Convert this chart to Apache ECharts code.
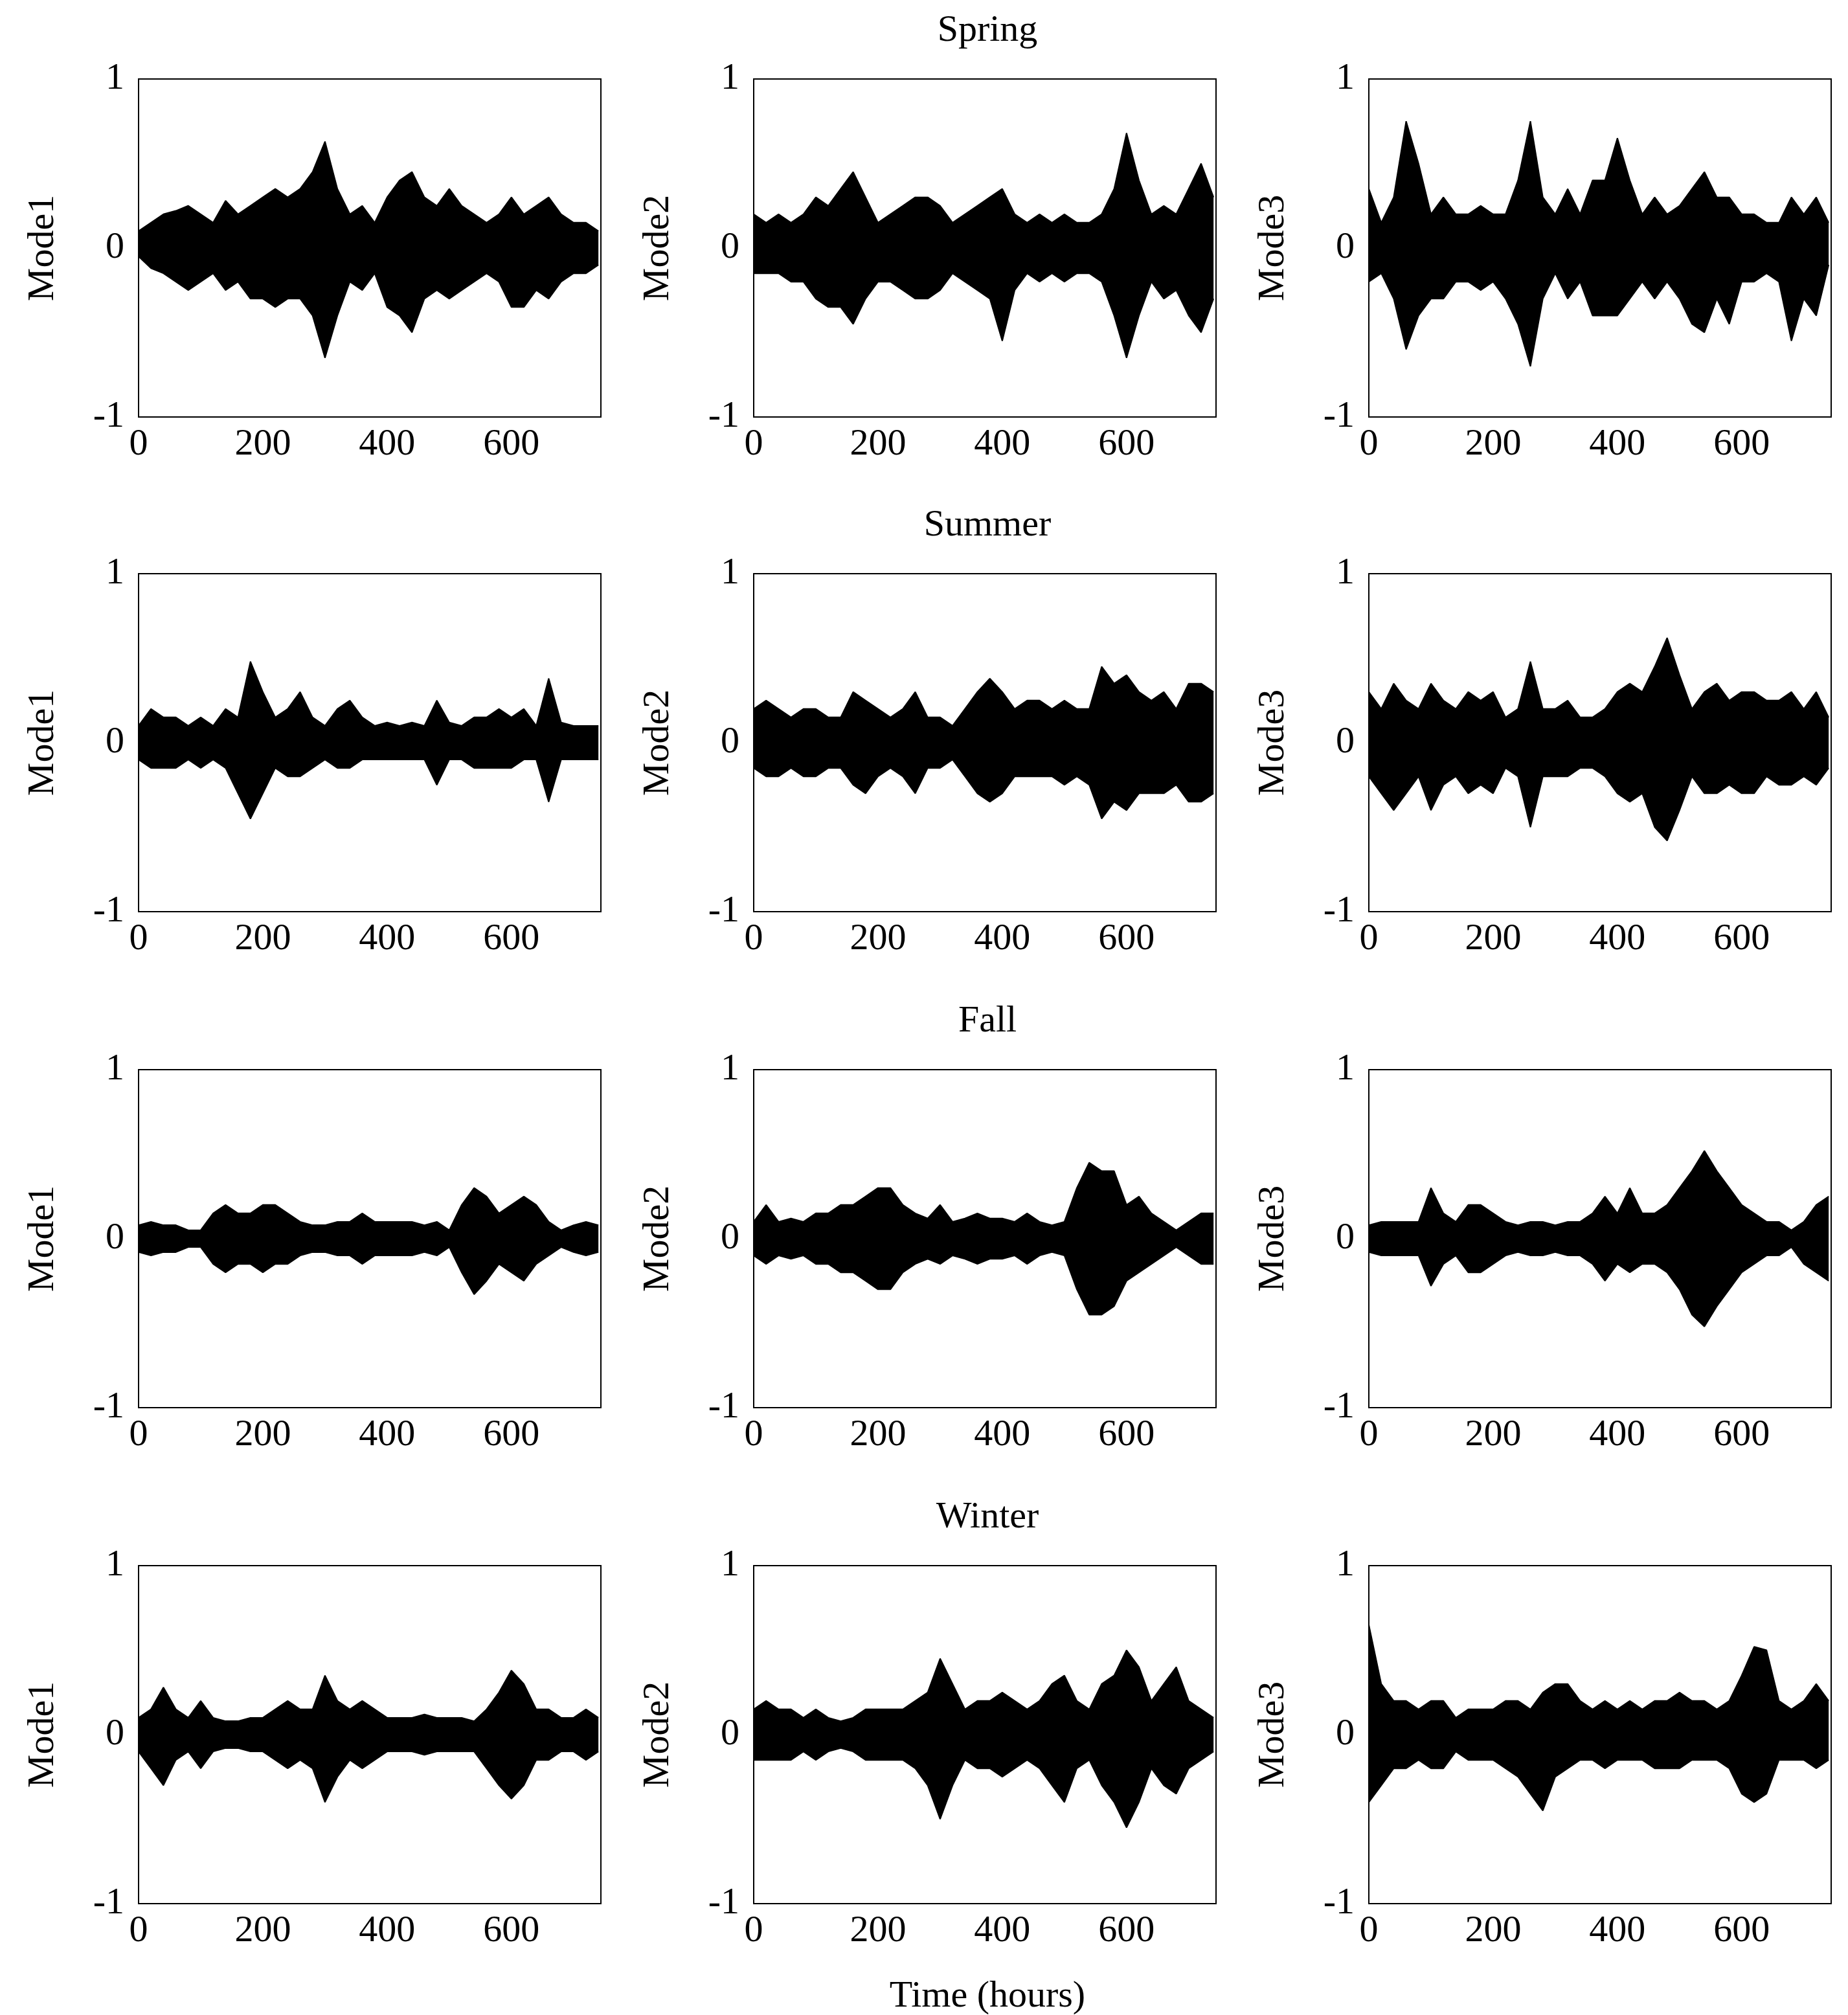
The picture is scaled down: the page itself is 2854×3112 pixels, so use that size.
<!DOCTYPE html>
<html><head><meta charset="utf-8">
<script src="https://cdn.jsdelivr.net/npm/echarts@6/dist/echarts.min.js"></script>
<style>html,body{margin:0;padding:0;background:#fff}#c{width:2854px;height:3112px}</style>
</head><body><div id="c"></div>
<script>
const hours = Array.from({length:38},(_,i)=>i*20);
const seasons = ["Spring","Summer","Fall","Winter"];
const modeNames = ["Mode1","Mode2","Mode3"];
const xTicks = [0,200,400,600];
const yTicks = [-1,0,1];
// envelope (upper / lower) of each mode, read every 20 hours
const S1hi=[0.1,0.15,0.2,0.22,0.25,0.2,0.15,0.28,0.2,0.25,0.3,0.35,0.3,0.35,0.45,0.63,0.35,0.2,0.25,0.15,0.3,0.4,0.45,0.3,0.25,0.35,0.25,0.2,0.15,0.2,0.3,0.2,0.25,0.3,0.2,0.15,0.15,0.1];
const S1lo=[-0.05,-0.12,-0.15,-0.2,-0.25,-0.2,-0.15,-0.25,-0.2,-0.3,-0.3,-0.35,-0.3,-0.3,-0.4,-0.65,-0.4,-0.2,-0.25,-0.15,-0.35,-0.4,-0.5,-0.3,-0.25,-0.3,-0.25,-0.2,-0.15,-0.2,-0.35,-0.35,-0.25,-0.3,-0.2,-0.15,-0.15,-0.1];
const S2hi=[0.2,0.15,0.2,0.15,0.2,0.3,0.25,0.35,0.45,0.3,0.15,0.2,0.25,0.3,0.3,0.25,0.15,0.2,0.25,0.3,0.35,0.2,0.15,0.2,0.15,0.2,0.15,0.15,0.2,0.35,0.68,0.4,0.2,0.25,0.2,0.35,0.5,0.3];
const S2lo=[-0.15,-0.15,-0.15,-0.2,-0.2,-0.3,-0.35,-0.35,-0.45,-0.3,-0.2,-0.2,-0.25,-0.3,-0.3,-0.25,-0.15,-0.2,-0.25,-0.3,-0.55,-0.25,-0.15,-0.2,-0.15,-0.2,-0.15,-0.15,-0.2,-0.4,-0.65,-0.4,-0.2,-0.3,-0.25,-0.4,-0.5,-0.3];
const S3hi=[0.35,0.15,0.3,0.75,0.5,0.2,0.3,0.2,0.2,0.25,0.2,0.2,0.4,0.75,0.3,0.2,0.35,0.2,0.4,0.4,0.65,0.4,0.2,0.3,0.2,0.25,0.35,0.45,0.3,0.3,0.2,0.2,0.15,0.15,0.3,0.2,0.3,0.15];
const S3lo=[-0.2,-0.15,-0.3,-0.6,-0.4,-0.3,-0.3,-0.2,-0.2,-0.25,-0.2,-0.3,-0.45,-0.7,-0.3,-0.15,-0.3,-0.2,-0.4,-0.4,-0.4,-0.3,-0.2,-0.3,-0.2,-0.3,-0.45,-0.5,-0.3,-0.45,-0.2,-0.2,-0.15,-0.2,-0.55,-0.3,-0.4,-0.1];
const U1hi=[0.1,0.2,0.15,0.15,0.1,0.15,0.1,0.2,0.15,0.48,0.3,0.15,0.2,0.3,0.15,0.1,0.2,0.25,0.15,0.1,0.12,0.1,0.12,0.1,0.25,0.12,0.1,0.15,0.15,0.2,0.15,0.2,0.1,0.38,0.12,0.1,0.1,0.1];
const U1lo=[-0.1,-0.15,-0.15,-0.15,-0.1,-0.15,-0.1,-0.15,-0.3,-0.45,-0.3,-0.15,-0.2,-0.2,-0.15,-0.1,-0.15,-0.15,-0.1,-0.1,-0.1,-0.1,-0.1,-0.1,-0.25,-0.1,-0.1,-0.15,-0.15,-0.15,-0.15,-0.1,-0.1,-0.35,-0.1,-0.1,-0.1,-0.1];
const U2hi=[0.2,0.25,0.2,0.15,0.2,0.2,0.15,0.15,0.3,0.25,0.2,0.15,0.2,0.3,0.15,0.15,0.1,0.2,0.3,0.38,0.3,0.2,0.25,0.25,0.2,0.25,0.2,0.2,0.45,0.35,0.4,0.3,0.25,0.3,0.2,0.35,0.35,0.3];
const U2lo=[-0.15,-0.2,-0.2,-0.15,-0.2,-0.2,-0.15,-0.15,-0.25,-0.3,-0.2,-0.15,-0.2,-0.3,-0.15,-0.15,-0.1,-0.2,-0.3,-0.35,-0.3,-0.2,-0.2,-0.2,-0.2,-0.25,-0.2,-0.25,-0.45,-0.35,-0.4,-0.3,-0.3,-0.3,-0.25,-0.35,-0.35,-0.3];
const U3hi=[0.3,0.2,0.35,0.25,0.2,0.35,0.25,0.2,0.3,0.25,0.3,0.15,0.2,0.48,0.2,0.2,0.25,0.15,0.15,0.2,0.3,0.35,0.3,0.45,0.62,0.4,0.2,0.3,0.35,0.25,0.3,0.3,0.25,0.25,0.3,0.2,0.3,0.15];
const U3lo=[-0.2,-0.3,-0.4,-0.3,-0.2,-0.4,-0.25,-0.2,-0.3,-0.25,-0.3,-0.15,-0.2,-0.5,-0.2,-0.2,-0.2,-0.15,-0.15,-0.2,-0.3,-0.35,-0.3,-0.5,-0.58,-0.4,-0.2,-0.3,-0.3,-0.25,-0.3,-0.3,-0.2,-0.25,-0.25,-0.2,-0.25,-0.15];
const F1hi=[0.08,0.1,0.08,0.08,0.05,0.05,0.15,0.2,0.15,0.15,0.2,0.2,0.15,0.1,0.08,0.08,0.1,0.1,0.15,0.1,0.1,0.1,0.1,0.08,0.1,0.05,0.2,0.3,0.25,0.15,0.2,0.25,0.2,0.1,0.05,0.08,0.1,0.08];
const F1lo=[-0.08,-0.1,-0.08,-0.08,-0.05,-0.05,-0.15,-0.2,-0.15,-0.15,-0.2,-0.15,-0.15,-0.1,-0.08,-0.08,-0.1,-0.1,-0.15,-0.1,-0.1,-0.1,-0.1,-0.08,-0.1,-0.05,-0.2,-0.33,-0.25,-0.15,-0.2,-0.25,-0.15,-0.1,-0.05,-0.08,-0.1,-0.08];
const F2hi=[0.1,0.2,0.1,0.12,0.1,0.15,0.15,0.2,0.2,0.25,0.3,0.3,0.2,0.15,0.12,0.2,0.1,0.12,0.15,0.12,0.12,0.1,0.15,0.1,0.08,0.1,0.3,0.45,0.4,0.4,0.2,0.25,0.15,0.1,0.05,0.1,0.15,0.15];
const F2lo=[-0.1,-0.15,-0.1,-0.12,-0.1,-0.15,-0.15,-0.2,-0.2,-0.25,-0.3,-0.3,-0.2,-0.15,-0.12,-0.15,-0.1,-0.12,-0.15,-0.12,-0.12,-0.1,-0.15,-0.1,-0.08,-0.1,-0.3,-0.45,-0.45,-0.4,-0.25,-0.2,-0.15,-0.1,-0.05,-0.1,-0.15,-0.15];
const F3hi=[0.08,0.1,0.1,0.1,0.1,0.3,0.15,0.1,0.2,0.2,0.15,0.1,0.08,0.1,0.1,0.08,0.1,0.1,0.15,0.25,0.15,0.3,0.15,0.15,0.2,0.3,0.4,0.52,0.4,0.3,0.2,0.15,0.1,0.1,0.05,0.1,0.2,0.25];
const F3lo=[-0.08,-0.1,-0.1,-0.1,-0.1,-0.28,-0.15,-0.1,-0.2,-0.2,-0.15,-0.1,-0.08,-0.1,-0.1,-0.08,-0.1,-0.1,-0.15,-0.25,-0.15,-0.2,-0.15,-0.15,-0.2,-0.3,-0.45,-0.52,-0.4,-0.3,-0.2,-0.15,-0.1,-0.1,-0.05,-0.15,-0.2,-0.25];
const W1hi=[0.1,0.15,0.28,0.15,0.1,0.2,0.1,0.08,0.08,0.1,0.1,0.15,0.2,0.15,0.15,0.35,0.2,0.15,0.2,0.15,0.1,0.1,0.1,0.12,0.1,0.1,0.1,0.08,0.15,0.25,0.38,0.3,0.15,0.15,0.1,0.1,0.15,0.1];
const W1lo=[-0.1,-0.2,-0.3,-0.15,-0.1,-0.2,-0.1,-0.08,-0.08,-0.1,-0.1,-0.15,-0.2,-0.15,-0.2,-0.4,-0.25,-0.15,-0.2,-0.15,-0.1,-0.1,-0.1,-0.12,-0.1,-0.1,-0.1,-0.1,-0.2,-0.3,-0.38,-0.3,-0.15,-0.15,-0.1,-0.1,-0.15,-0.1];
const W2hi=[0.15,0.2,0.15,0.15,0.1,0.15,0.1,0.08,0.1,0.15,0.15,0.15,0.15,0.2,0.25,0.45,0.3,0.15,0.2,0.2,0.25,0.2,0.15,0.2,0.3,0.35,0.2,0.15,0.3,0.35,0.5,0.4,0.2,0.3,0.4,0.2,0.15,0.1];
const W2lo=[-0.15,-0.15,-0.15,-0.15,-0.1,-0.15,-0.1,-0.08,-0.1,-0.15,-0.15,-0.15,-0.15,-0.2,-0.3,-0.5,-0.3,-0.15,-0.2,-0.2,-0.25,-0.2,-0.15,-0.2,-0.3,-0.4,-0.2,-0.15,-0.3,-0.4,-0.55,-0.4,-0.2,-0.3,-0.35,-0.2,-0.15,-0.1];
const W3hi=[0.65,0.3,0.2,0.2,0.15,0.2,0.2,0.1,0.15,0.15,0.15,0.2,0.2,0.15,0.25,0.3,0.3,0.2,0.15,0.2,0.15,0.2,0.15,0.2,0.2,0.25,0.2,0.2,0.15,0.2,0.35,0.52,0.5,0.2,0.15,0.2,0.3,0.2];
const W3lo=[-0.4,-0.3,-0.2,-0.2,-0.15,-0.2,-0.2,-0.1,-0.15,-0.15,-0.15,-0.2,-0.25,-0.35,-0.45,-0.25,-0.2,-0.15,-0.15,-0.2,-0.15,-0.15,-0.15,-0.2,-0.2,-0.2,-0.15,-0.15,-0.15,-0.2,-0.35,-0.4,-0.35,-0.15,-0.15,-0.15,-0.2,-0.15];
const panels=[[[S1hi,S1lo],[S2hi,S2lo],[S3hi,S3lo]],[[U1hi,U1lo],[U2hi,U2lo],[U3hi,U3lo]],[[F1hi,F1lo],[F2hi,F2lo],[F3hi,F3lo]],[[W1hi,W1lo],[W2hi,W2lo],[W3hi,W3lo]]];

const FONT="Liberation Serif";
const lefts=[214,1164,2114], W=714, tops=[122,886,1652,2418], H=522;
const grid=[],xAxis=[],yAxis=[],series=[],title=[];
const txt={fontFamily:FONT,fontSize:58,color:'#000'};
seasons.forEach((s,r)=>{
  title.push({text:s,left:1520,textAlign:'center',top:tops[r]-108,textStyle:{...txt,fontWeight:'normal'}});
  for(let c=0;c<3;c++){
    const i=grid.length;
    grid.push({left:lefts[c],top:tops[r],width:W,height:H,show:true,borderColor:'#000',borderWidth:2,backgroundColor:'#fff'});
    xAxis.push({type:'value',gridIndex:i,min:0,max:744,interval:200,
      axisLine:{show:false},axisTick:{inside:true,length:12,lineStyle:{color:'#000',width:2}},splitLine:{show:false},
      axisLabel:{...txt,margin:14,formatter:v=>xTicks.includes(v)?String(v):''}});
    yAxis.push({type:'value',gridIndex:i,min:-1,max:1,interval:1,name:modeNames[c],nameLocation:'middle',nameGap:118,
      nameTextStyle:{...txt},axisLine:{show:false},axisTick:{inside:true,length:12,lineStyle:{color:'#000',width:2}},splitLine:{show:false},
      axisLabel:{...txt,margin:22,formatter:v=>yTicks.includes(v)?String(v):''}});
    const [hi,lo]=panels[r][c];
    [hi,lo].forEach(arr=>series.push({type:'line',xAxisIndex:i,yAxisIndex:i,data:hours.map((h,k)=>[h,arr[k]]),
      showSymbol:false,lineStyle:{color:'#000',width:2},areaStyle:{color:'#000',opacity:1,origin:0},silent:true,animation:false}));
  }
});
title.push({text:'Time (hours)',left:1520,textAlign:'center',top:3050,textStyle:{...txt,fontWeight:'normal'}});
const chart=echarts.init(document.getElementById('c'));
chart.setOption({backgroundColor:'#fff',animation:false,title,grid,xAxis,yAxis,series});
</script></body></html>
